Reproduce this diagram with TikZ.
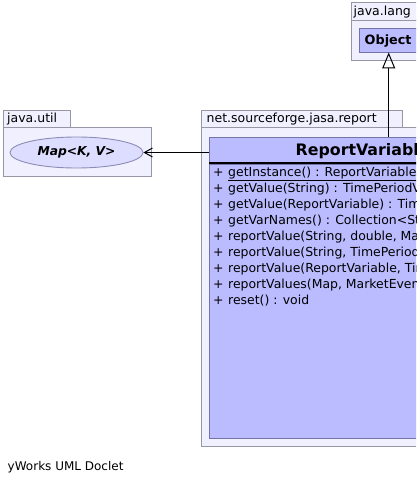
\documentclass[tikz,border=0pt]{standalone}
\usepackage{fontspec}
\setmainfont{DejaVu Sans}
\usetikzlibrary{arrows.meta,shapes.geometric}
\definecolor{pkgfill}{RGB}{240,240,255}
\definecolor{pkgline}{RGB}{150,150,165}
\definecolor{clsfill}{RGB}{187,187,255}
\definecolor{clsline}{RGB}{115,115,165}
\definecolor{ellfill}{RGB}{221,221,255}
\definecolor{ellline}{RGB}{140,140,180}
\tikzset{
  pkg/.style={draw=pkgline, fill=pkgfill, line width=0.9pt},
  pkglabel/.style={anchor=base west, inner sep=0pt, font=\fontsize{12.5}{14}\selectfont},
  cls/.style={draw=clsline, fill=clsfill, line width=0.9pt, inner sep=0pt, rectangle},
  iface/.style={draw=ellline, fill=ellfill, line width=0.9pt, inner sep=0pt, ellipse},
  txt/.style={anchor=base west, inner sep=0pt, font=\fontsize{12.45}{14}\selectfont},
  gen/.style={draw=black, line width=1pt, -{Triangle[open, length=16pt, width=13pt, line width=1pt]}},
  dep/.style={draw=black, line width=1pt, -{Straight Barb[length=8pt, width=9pt, line width=1pt]}}
}
\begin{document}
\begin{tikzpicture}[x=1pt,y=-1pt]
\useasboundingbox (0,0) rectangle (416,484);
\clip (0,0) rectangle (416,484);
\fill[white] (0,0) rectangle (416,484);
% java.lang package
\draw[pkg] (351,2) rectangle (430,20);
\draw[pkg] (351,20) rectangle (430,60);
\node[pkglabel] (langlbl) at (353.5,16) {java.lang};
% java.util package
\draw[pkg] (3,110) rectangle (70,127);
\draw[pkg] (3,127) rectangle (151,176);
\node[pkglabel] (utillbl) at (7,122.5) {java.util};
% net.sourceforge.jasa.report package
\draw[pkg] (201,110) rectangle (402,127);
\draw[pkg] (201,127) rectangle (540,446);
\node[pkglabel] (reportlbl) at (206.5,122) {net.sourceforge.jasa.report};
% Object class
\node[cls, minimum width=59pt, minimum height=24pt] (obj) at (388.7,40) {};
\node[anchor=base west, inner sep=0pt, font=\fontsize{12.8}{14}\selectfont\bfseries] (objname) at (364.5,45) {Object};
% Map interface
\node[iface, minimum width=133pt, minimum height=31pt, font=\fontsize{12.3}{14}\selectfont\bfseries\itshape] (map) at (76.5,152.5) {Map<K, V>};
% ReportVariables class
\node[cls, minimum width=303pt, minimum height=301pt] (rv) at (360.5,287.5) {};
\node[anchor=base west, inner sep=0pt, font=\fontsize{15.8}{18}\selectfont\bfseries] (rvname) at (295.5,155) {ReportVariables};
\draw[black, line width=2.2pt] (209,162.6) -- (512,162.6);
\draw[clsline, line width=0.8pt] (209,164.6) -- (512,164.6);
% methods
\foreach \i in {0,...,8} {
  \node[txt] (p\i) at (213,176+16*\i) {+};
}
\node[txt] (m0) at (228,176) {\underline{getInstance() : ReportVariables}};
\node[txt] (m1) at (228,192) {getValue(String) : TimePeriodValue};
\node[txt] (m2) at (228,208) {getValue(ReportVariable) : TimePeriodValue};
\node[txt] (m3) at (228,224) {getVarNames() : Collection<String>};
\node[txt] (m4) at (228,240) {reportValue(String, double, MarketEvent) : void};
\node[txt] (m5) at (228,256) {reportValue(String, TimePeriodValue) : void};
\node[txt] (m6) at (228,272) {reportValue(ReportVariable, TimePeriodValue) : void};
\node[txt] (m7) at (228,288) {reportValues(Map, MarketEvent) : void};
\node[txt] (m8) at (228,304) {reset() : void};
% connectors
\draw[gen] (obj.south |- rv.north) -- (obj.south);
\draw[dep] (rv.west |- map.east) -- (map.east);
% footer
\node[txt, font=\fontsize{12}{14}\selectfont] (footer) at (7.5,470) {yWorks UML Doclet};
\end{tikzpicture}
\end{document}
